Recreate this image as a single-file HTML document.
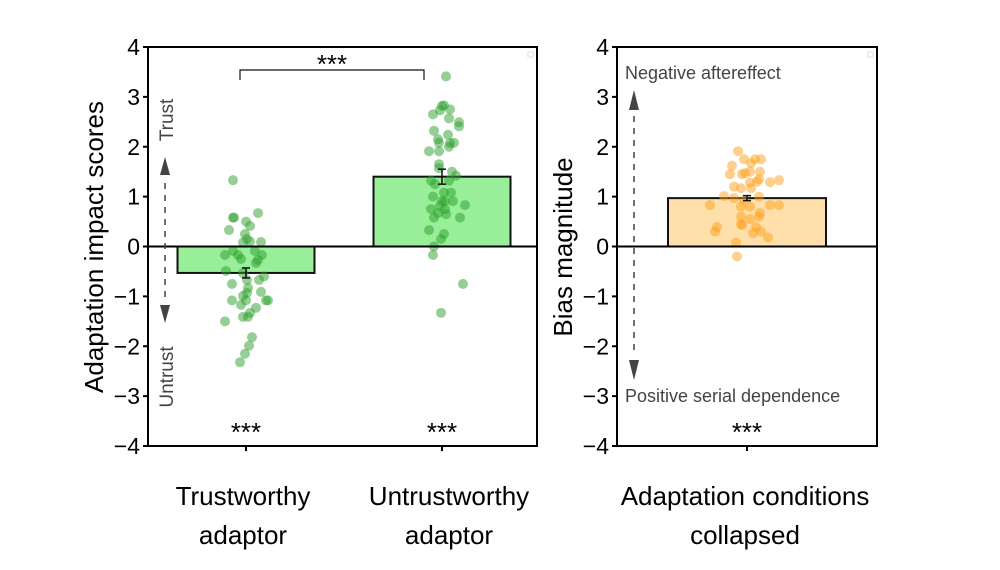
<!DOCTYPE html>
<html><head><meta charset="utf-8"><style>
html,body{margin:0;padding:0;background:#fff;}
svg{display:block;font-family:"Liberation Sans",sans-serif;}
</style></head><body>
<svg id="chart" width="1000" height="570" viewBox="0 0 1000 570"></svg>
<script>
const categories=["Trustworthy adaptor","Untrustworthy adaptor"];
const barMeans=[-0.53,1.4];
const barErrs=[0.1,0.15];
const yTicks=[-4,-3,-2,-1,0,1,2,3,4];
const trustPts=[[-13,1.33],[-13,0.58],[-12,0.58],[0,0.5],[4,0.41],[12,0.67],[-17,0.33],[-1,0.25],[1,0.15],[-3,0.08],[4,0.1],[15,0.09],[-13,-0.09],[-21,-0.17],[-8,-0.17],[-5,-0.25],[9,-0.09],[16,-0.17],[12,-0.27],[10,-0.33],[-20,-0.49],[-3,-0.53],[18,-0.6],[1,-0.67],[-14,-0.75],[13,-0.67],[2,-0.83],[-3,-0.99],[1,-0.93],[15,-0.91],[-14,-1.08],[-5,-1.17],[0,-1.08],[20,-1.08],[22,-1.08],[10,-1.23],[4,-1.33],[-3,-1.41],[2,-1.41],[-21,-1.5],[6,-1.82],[3,-1.99],[-1,-2.15],[-6,-2.32]];
const untrustPts=[[4,3.41],[2,2.83],[0,2.82],[8,2.75],[-2,2.73],[-9,2.65],[7,2.57],[17,2.49],[17,2.41],[-8,2.32],[6,2.24],[-4,2.15],[12,2.08],[8,2.07],[-3,2.08],[7,2.0],[-13,1.91],[-3,1.91],[-3,1.65],[-3,1.57],[10,1.5],[14,1.42],[-11,1.32],[-7,1.25],[7,1.32],[2,1.08],[9,1.08],[-9,1.0],[0,0.91],[3,0.91],[11,0.91],[23,0.83],[-2,0.82],[-11,0.75],[3,0.75],[-4,0.67],[4,0.65],[-8,0.58],[18,0.58],[-13,0.33],[2,0.25],[-1,0.15],[-8,0],[-9,-0.17],[21,-0.75],[-1,-1.33]];
const collapsedMean=[0.97];
const collapsedErr=[0.05];
const collapsedPts=[[-9,1.91],[-3,1.75],[8,1.75],[14,1.75],[-15,1.62],[4,1.67],[-17,1.45],[-5,1.45],[3,1.5],[13,1.5],[-2,1.47],[-13,1.2],[-6,1.17],[3,1.28],[10,1.3],[12,1.35],[4,1.17],[23,1.29],[32,1.33],[-23,1.01],[-13,0.97],[-3,0.93],[12,1.0],[-37,0.83],[-6,0.8],[3,0.8],[23,0.83],[32,0.83],[13,0.67],[-6,0.6],[3,0.55],[12,0.6],[-6,0.45],[-5,0.43],[-30,0.39],[-32,0.3],[9,0.39],[6,0.27],[14,0.3],[21,0.18],[-11,0.08],[-10,-0.2]];

const svg=document.getElementById('chart');
const NS='http://www.w3.org/2000/svg';
function mk(tag,attrs,parent,text){const e=document.createElementNS(NS,tag);for(const k in attrs)e.setAttribute(k,attrs[k]);if(text!==undefined)e.textContent=text;(parent||svg).appendChild(e);return e;}
const yTop=47,yBot=446;
function y(v){return yTop+(4-v)*(yBot-yTop)/8;}
const L={x0:148,x1:537,centers:[246,442],bw:137};
const R={x0:617,x1:877,center:747,bw:158};

function panel(P,name){
  const g=mk('g',{});
  
  
  yTicks.forEach(t=>{
    const tl=mk('line',{x1:P.x0-5,x2:P.x0,y1:y(t),y2:y(t),stroke:'#000','stroke-width':2},g);
    
    
    const tx=mk('text',{x:P.x0-8,y:y(t)+8,'text-anchor':'end','font-size':23,fill:'#000'},g,t<0?'\u2212'+(-t):String(t));
    
    
  });
  return g;
}
const gl=panel(L,'left-panel');
const gr=panel(R,'right-panel');

categories.forEach((c,i)=>{
  const cx=L.centers[i],v=barMeans[i];
  const b=mk('rect',{x:cx-L.bw/2,y:Math.min(y(v),y(0)),width:L.bw,height:Math.abs(y(v)-y(0)),fill:'#99ee99',stroke:'#111','stroke-width':2},gl);
  
  
});
function dots(pts,cx,color,g,name){
  pts.forEach(p=>{
    const d=mk('circle',{cx:cx+p[0],cy:y(p[1]),r:5,fill:color,'fill-opacity':0.5},g);
    
    
  });
}
dots(trustPts,L.centers[0],'#2ca02c',gl,'trust-point');
dots(untrustPts,L.centers[1],'#2ca02c',gl,'untrust-point');
function err(cx,m,e,g){
  const eg=mk('g',{stroke:'#111','stroke-width':1.5},g);
  
  
  mk('line',{x1:cx,x2:cx,y1:y(m+e),y2:y(m-e)},eg);
  mk('line',{x1:cx-4,x2:cx+4,y1:y(m+e),y2:y(m+e)},eg);
  mk('line',{x1:cx-4,x2:cx+4,y1:y(m-e),y2:y(m-e)},eg);
}
categories.forEach((c,i)=>err(L.centers[i],barMeans[i],barErrs[i],gl));

const rb=mk('rect',{x:R.center-R.bw/2,y:y(collapsedMean[0]),width:R.bw,height:y(0)-y(collapsedMean[0]),fill:'#ffdfaa',stroke:'#111','stroke-width':2},gr);


dots(collapsedPts,R.center,'#ff9f1c',gr,'collapsed-point');
err(R.center,collapsedMean[0],collapsedErr[0],gr);

[[L,gl],[R,gr]].forEach(([P,g])=>{
  const z=mk('line',{x1:P.x0,x2:P.x1,y1:y(0),y2:y(0),stroke:'#000','stroke-width':2},g);
  
  const f=mk('rect',{x:P.x0,y:yTop,width:P.x1-P.x0,height:yBot-yTop,fill:'none',stroke:'#000','stroke-width':2},g);
  
  const sq=mk('rect',{x:P.x1-9,y:yTop+5,width:5,height:5,fill:'none',stroke:'#ddd','stroke-width':1},g);
  
});
L.centers.concat([R.center]).forEach(cx=>{
  const t=mk('line',{x1:cx,x2:cx,y1:yBot,y2:yBot+5,stroke:'#000','stroke-width':2});
  
});
</script>
<svg width="1000" height="570" style="position:absolute;left:0;top:0">
<g font-family="Liberation Sans, sans-serif">
<path d="M240 80 V70 H424 V80" fill="none" stroke="#111" stroke-width="1.2"/>
<text x="332" y="73" text-anchor="middle" font-size="26">***</text>
<text x="246" y="441" text-anchor="middle" font-size="26">***</text>
<text x="442" y="441" text-anchor="middle" font-size="26">***</text>
<text x="747" y="441" text-anchor="middle" font-size="26">***</text>
<text transform="translate(173,120) rotate(-90)" text-anchor="middle" font-size="19" fill="#444">Trust</text>
<text transform="translate(173,377) rotate(-90)" text-anchor="middle" font-size="19" fill="#444">Untrust</text>
<polygon points="165,157 160,175 170,175" fill="#444"/>
<polygon points="165,323 160,305 170,305" fill="#444"/>
<line x1="165" y1="183" x2="165" y2="300" stroke="#444" stroke-width="1.5" stroke-dasharray="6,6"/>
<polygon points="634,90 629,110 639,110" fill="#444"/>
<polygon points="634,380 629,360 639,360" fill="#444"/>
<line x1="634" y1="116" x2="634" y2="356" stroke="#444" stroke-width="1.5" stroke-dasharray="6,6"/>
<text x="625" y="79" font-size="18" fill="#444">Negative aftereffect</text>
<text x="625" y="402" font-size="18" fill="#444">Positive serial dependence</text>
<text transform="translate(103,247) rotate(-90)" text-anchor="middle" font-size="26">Adaptation impact scores</text>
<text transform="translate(572,247) rotate(-90)" text-anchor="middle" font-size="26">Bias magnitude</text>
<text x="243" y="505" text-anchor="middle" font-size="26">Trustworthy</text>
<text x="243" y="544" text-anchor="middle" font-size="26">adaptor</text>
<text x="449" y="505" text-anchor="middle" font-size="26">Untrustworthy</text>
<text x="449" y="544" text-anchor="middle" font-size="26">adaptor</text>
<text x="745" y="505" text-anchor="middle" font-size="26">Adaptation conditions</text>
<text x="745" y="544" text-anchor="middle" font-size="26">collapsed</text>
</g></svg>
</body></html>
